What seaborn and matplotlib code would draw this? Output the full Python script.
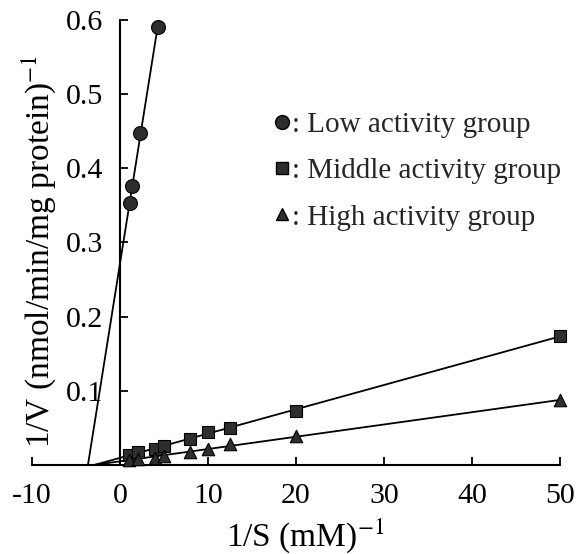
import numpy as np
import pandas as pd
import matplotlib
matplotlib.use("Agg")
import matplotlib.pyplot as plt
import seaborn as sns
from matplotlib.lines import Line2D

# ---- data ----
low_x = [1.15, 1.4, 2.25, 4.3]
low_y = [0.353, 0.376, 0.447, 0.590]
mid_x = [1, 2, 4, 5, 8, 10, 12.5, 20, 50]
mid_y = [0.013, 0.017, 0.022, 0.026, 0.035, 0.045, 0.050, 0.073, 0.174]
high_x = [1, 2, 4, 5, 8, 10, 12.5, 20, 50]
high_y = [0.007, 0.008, 0.010, 0.012, 0.018, 0.022, 0.028, 0.039, 0.087]
group_labels = [": Low activity group", ": Middle activity group", ": High activity group"]
x_ticks = [-10, 0, 10, 20, 30, 40, 50]
y_ticks = [0.1, 0.2, 0.3, 0.4, 0.5, 0.6]

sns.set_theme(style="white")
plt.rcParams['font.family'] = ['Liberation Serif', 'DejaVu Serif']
plt.rcParams['mathtext.fontset'] = 'stix'

fig = plt.figure(figsize=(5.76, 5.54), dpi=100)
ax = fig.add_axes([32/576, 1-465/554, 528/576, 445/554])

groups = [
    (low_x, low_y, 'o', 10),
    (mid_x, mid_y, 's', 9),
    (high_x, high_y, '^', 9),
]
face = '#2e2e2e'
for xs, ys, mk, ms in groups:
    slope, icpt = np.polyfit(xs, ys, 1)
    x0 = -icpt / slope
    fit = pd.DataFrame({'x': [x0, max(xs)], 'y': [icpt + slope * x0, icpt + slope * max(xs)]})
    sns.lineplot(data=fit, x='x', y='y', ax=ax, color='black', lw=1.3, zorder=2)
    df = pd.DataFrame({'x': xs, 'y': ys})
    sns.scatterplot(data=df, x='x', y='y', ax=ax, marker=mk, s=ms**2, color=face,
                    edgecolor='black', linewidth=0.8, zorder=3, clip_on=False)

ax.set_xlim(-10, 50)
ax.set_ylim(0, 0.6)
ax.set_xticks(x_ticks)
ax.set_xticklabels([str(t) for t in x_ticks])
ax.set_yticks(y_ticks)
ax.set_yticklabels([f"{t:.1f}" for t in y_ticks])

for s in ['top', 'right']:
    ax.spines[s].set_visible(False)
ax.spines['left'].set_position(('data', 0))
for s in ['left', 'bottom']:
    ax.spines[s].set_color('black')
    ax.spines[s].set_linewidth(1.5)

ax.tick_params(axis='both', direction='in', length=6, width=1.3, colors='black',
               labelsize=21.5, left=True, bottom=True)
ax.tick_params(axis='y', pad=12)
ax.tick_params(axis='x', pad=13)

ax.set_xlabel("1/S (mM)$^{-1}$", fontsize=24, color='black')
ax.set_ylabel("1/V (nmol/min/mg protein)$^{-1}$", fontsize=24, color='black')
ax.xaxis.set_label_coords(0.517, -0.115)
ax.yaxis.set_label_coords(0.05, 0.48)

handles = [
    Line2D([], [], ls='none', marker='o', ms=10, mfc=face, mec='black'),
    Line2D([], [], ls='none', marker='s', ms=9, mfc=face, mec='black'),
    Line2D([], [], ls='none', marker='^', ms=9, mfc=face, mec='black'),
]
leg = ax.legend(handles, group_labels, frameon=False, fontsize=21,
                loc='upper left', bbox_to_anchor=(0.432, 0.82),
                handlelength=0.7, handletextpad=0.0, labelspacing=0.68,
                borderaxespad=0)

fig.savefig("out.png", dpi=100)
